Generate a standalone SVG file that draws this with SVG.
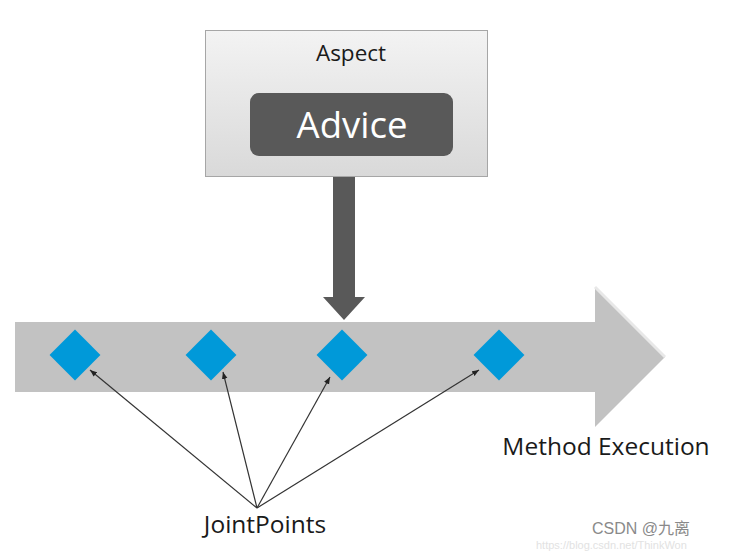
<svg xmlns="http://www.w3.org/2000/svg" width="729" height="551" viewBox="0 0 729 551">
<defs>
<linearGradient id="aspG" x1="0" y1="0" x2="0" y2="1">
<stop offset="0" stop-color="#f3f3f3"/>
<stop offset="1" stop-color="#d9d9d9"/>
</linearGradient>
<marker id="ah" viewBox="0 0 10 10" refX="10" refY="5" markerWidth="7" markerHeight="7" orient="auto" markerUnits="userSpaceOnUse">
<path d="M0,1 L10,5 L0,9 z" fill="#222"/>
</marker>
<style>
.lbl{font-family:"Open Sans","Liberation Sans",sans-serif;fill:#1a1a1a}
.jp{fill:#0099d9}
.conn{stroke:#333;stroke-width:1.2;fill:none;marker-end:url(#ah)}
</style>
</defs>
<rect width="729" height="551" fill="#ffffff"/>
<g id="timeline">
<path d="M15,322 L595,322 L595,287 L665,357 L595,427 L595,392 L15,392 Z" fill="#c2c2c2"/>
<path d="M595,287 L665,357" stroke="#e8e8e8" stroke-width="3" fill="none"/>
<text class="lbl" x="606" y="455" font-size="24.5" text-anchor="middle">Method Execution</text>
</g>
<g id="aspect">
<rect x="205.5" y="30.5" width="282" height="146" fill="url(#aspG)" stroke="#a6a6a6" stroke-width="1"/>
<text class="lbl" x="351" y="61" font-size="22.5" text-anchor="middle">Aspect</text>
</g>
<g id="advice">
<rect x="250" y="93" width="203" height="63" rx="9" fill="#595959"/>
<text class="lbl" x="352" y="138" font-size="36.5" text-anchor="middle" style="fill:#ffffff">Advice</text>
</g>
<g id="advice-arrow">
<path d="M333,177 L355,177 L355,297 L365,297 L344,320 L323,297 L333,297 Z" fill="#595959"/>
</g>
<g id="jp1"><rect class="jp" x="57" y="337" width="36" height="36" transform="rotate(45 75 355)"/></g>
<g id="jp2"><rect class="jp" x="193" y="337" width="36" height="36" transform="rotate(45 211 355)"/></g>
<g id="jp3"><rect class="jp" x="324" y="337" width="36" height="36" transform="rotate(45 342 355)"/></g>
<g id="jp4"><rect class="jp" x="481" y="337" width="36" height="36" transform="rotate(45 499 355)"/></g>
<g id="connectors">
<line class="conn" x1="257" y1="508" x2="90" y2="370"/>
<line class="conn" x1="257" y1="508" x2="223" y2="372"/>
<line class="conn" x1="257" y1="508" x2="330" y2="377"/>
<line class="conn" x1="257" y1="508" x2="479" y2="370"/>
</g>
<g id="jointpoints-label">
<text class="lbl" x="265" y="533" font-size="24.5" text-anchor="middle">JointPoints</text>
</g>
<g id="watermark">
<text x="592" y="534" font-size="16" font-family="'Liberation Sans','Noto Sans CJK SC',sans-serif" fill="#8a8a8a">CSDN @九离</text>
<text x="536" y="549" font-size="11" font-family="'Liberation Sans',sans-serif" fill="#e2e2e2">https://blog.csdn.net/ThinkWon</text>
</g>
</svg>
